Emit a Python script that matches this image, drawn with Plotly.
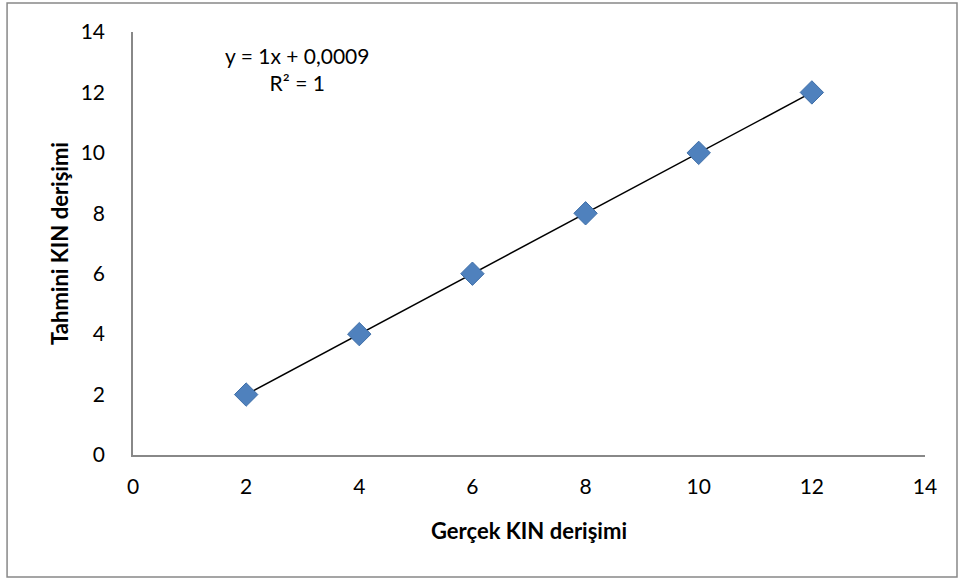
import numpy as np
import plotly.graph_objects as go

actual = [2, 4, 6, 8, 10, 12]
predicted = [2, 4, 6, 8, 10, 12]
x_title = "Gerçek KIN derişimi"
y_title = "Tahmini KIN derişimi"
eq_text = "y = 1x + 0,0009<br>R² = 1"

slope, intercept = np.polyfit(actual, predicted, 1)
tx = [min(actual), max(actual)]
ty = [slope * v + intercept for v in tx]

font = "Lato, 'Open Sans', sans-serif"

fig = go.Figure()
fig.add_trace(go.Scatter(x=tx, y=ty, mode="lines",
                         line=dict(color="black", width=1.5), showlegend=False))
fig.add_trace(go.Scatter(x=actual, y=predicted, mode="markers",
                         marker=dict(symbol="diamond", size=18, color="#4F81BD",
                                     line=dict(color="#3F6FA8", width=1)),
                         showlegend=False))

fig.update_layout(
    width=960, height=581,
    margin=dict(l=133, r=35, t=32, b=126),
    paper_bgcolor="white", plot_bgcolor="white",
    font=dict(family=font, size=21, color="black"),
    xaxis=dict(range=[0, 14], tickvals=list(range(0, 15, 2)), showgrid=False,
               zeroline=False, showline=True, linecolor="#888888", linewidth=1.5,
               ticks="", ticklen=0, tickfont=dict(size=21), ticklabelstandoff=12,
               title=dict(text="<b>" + x_title + "</b>", font=dict(size=22), standoff=27)),
    yaxis=dict(range=[0, 14], tickvals=list(range(0, 15, 2)), showgrid=False,
               zeroline=False, showline=True, linecolor="#888888", linewidth=1.5,
               ticks="", ticklen=0, tickfont=dict(size=21), ticklabelstandoff=22,
               title=dict(text="<b>" + y_title + "</b>", font=dict(size=22), standoff=6)),
    annotations=[dict(x=2.9, y=13.7, xref="x", yref="y", text=eq_text, showarrow=False,
                      xanchor="center", yanchor="top", align="center",
                      font=dict(size=21, family=font))],
    shapes=[dict(type="rect", xref="paper", yref="paper",
                 x0=-0.159, x1=1.0404, y0=-0.2884, y1=1.0686,
                 line=dict(color="#888888", width=1.5))],
)

fig.write_html("out.html")
